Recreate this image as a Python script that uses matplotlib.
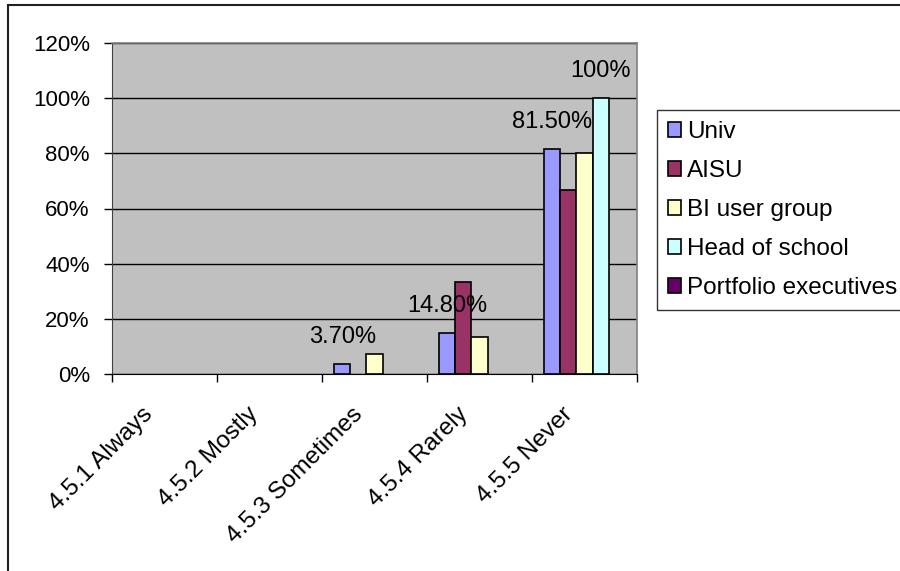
import numpy as np
import matplotlib
matplotlib.use("Agg")
import matplotlib.pyplot as plt
from matplotlib.patches import Patch, Rectangle
from matplotlib.ticker import FixedLocator, PercentFormatter

plt.rcParams["font.family"] = ["Liberation Sans", "DejaVu Sans"]

# --- data (percent of respondents) ---------------------------------------
CATEGORIES = ["4.5.1 Always", "4.5.2 Mostly", "4.5.3 Sometimes",
              "4.5.4 Rarely", "4.5.5 Never"]
SERIES = ["Univ", "AISU", "BI user group", "Head of school",
          "Portfolio executives"]
univ      = [0, 0, 3.7, 14.8, 81.5]
aisu      = [0, 0, 0, 33.3, 66.7]
bi_group  = [0, 0, 7.1, 13.3, 80.0]
head      = [0, 0, 0, 0, 100.0]
portfolio = [0, 0, 0, 0, 0]
VALUES = [univ, aisu, bi_group, head, portfolio]

# data labels shown on the chart: (series index, category index)
LABELLED = [(0, 2), (0, 3), (0, 4), (3, 4)]

COLORS = ["#9999FF", "#993366", "#FFFFCC", "#CCFFFF", "#660066"]
PLOT_BG = "#C0C0C0"

fig = plt.figure(figsize=(9.0, 5.71), dpi=100)
ax = fig.add_axes([112 / 900, 1 - 374 / 571, 525 / 900, 331 / 571])
ax.set_facecolor(PLOT_BG)

n_series = len(SERIES)
width = 1 / (n_series + 1.5)
x = np.arange(len(CATEGORIES))
for j, (name, vals) in enumerate(zip(SERIES, VALUES)):
    # empty categories get no outline, so nothing shows on the baseline
    edges = ["black" if v > 0 else "none" for v in vals]
    ax.bar(x + (j - (n_series - 1) / 2) * width, vals, width=width,
           color=COLORS[j], edgecolor=edges, linewidth=1.2, zorder=3)

for j, i in LABELLED:
    v = VALUES[j][i]
    txt = "100%" if v == 100 else f"{v:.2f}%"
    ax.annotate(txt, (i + (j - (n_series - 1) / 2) * width, v),
                xytext=(0, 19.5), textcoords="offset points",
                ha="center", va="center", fontsize=17, zorder=4)

ax.set_xlim(-0.5, len(CATEGORIES) - 0.5)
ax.set_ylim(0, 120)
ax.yaxis.set_major_locator(FixedLocator(np.arange(0, 121, 20)))
ax.yaxis.set_major_formatter(PercentFormatter(decimals=0))
ax.yaxis.grid(True, color="black", linewidth=1.0, zorder=1)

# category labels, slanted and hung just left of each category centre
ax.set_xticks(x, labels=[])
for i, cat in enumerate(CATEGORIES):
    ax.annotate(cat, (i, 0), xycoords=("data", "axes fraction"),
                xytext=(-16.5, -21), textcoords="offset points",
                rotation=45, rotation_mode="anchor", ha="right", va="top",
                fontsize=17.5, annotation_clip=False)
ax.xaxis.set_minor_locator(FixedLocator(np.arange(-0.5, len(CATEGORIES), 1)))
ax.tick_params(axis="x", which="major", length=0)
ax.tick_params(axis="x", which="minor", length=6, width=1.0, direction="out")
ax.tick_params(axis="y", length=6, width=1.0, direction="out",
               labelsize=16, pad=10)

for side in ("top", "right"):
    ax.spines[side].set_color("#808080")
    ax.spines[side].set_linewidth(1.2)
ax.spines["left"].set_color("#404040")
ax.spines["bottom"].set_color("black")

handles = [Patch(facecolor=c, edgecolor="black", linewidth=1.2, label=s)
           for c, s in zip(COLORS, SERIES)]
leg = fig.legend(handles=handles, loc="upper left",
                 bbox_to_anchor=(657 / 900, 1 - 110 / 571),
                 fontsize=17.5, frameon=True, fancybox=False,
                 handlelength=0.55, handleheight=0.55, handletextpad=0.25,
                 labelspacing=0.7, borderpad=0.45, borderaxespad=0)
leg.get_frame().set_edgecolor("black")
leg.get_frame().set_linewidth(1.0)

# outer chart border (runs past the right and bottom edges)
fig.patches.append(Rectangle((8 / 900, -0.1), 1.2, 1 - 5 / 571 + 0.1,
                             transform=fig.transFigure, fill=False,
                             edgecolor="#202020", linewidth=1.5))

fig.savefig("out.png", dpi=100)
